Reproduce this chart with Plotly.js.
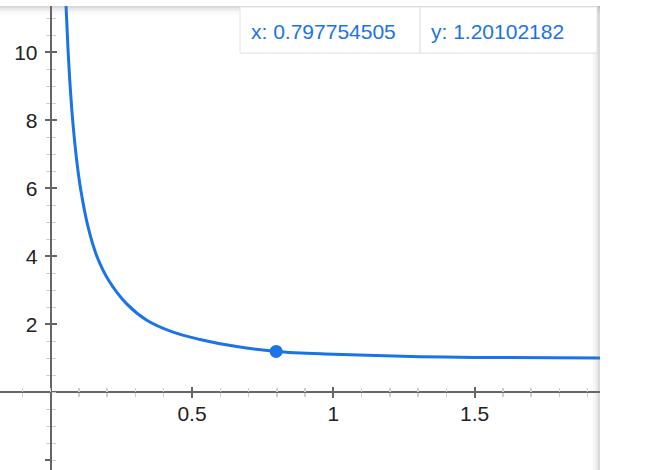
<!DOCTYPE html>
<html>
<head>
<meta charset="utf-8">
<script src="https://cdn.plot.ly/plotly-3.0.1.min.js"></script>
<style>html,body{margin:0;padding:0;background:#fff;}#chart{width:662px;height:470px;}</style>
</head>
<body>
<div id="chart"></div>
<script>
// Curve values
const curveX = [0.054, 0.062, 0.070, 0.080, 0.092, 0.106, 0.132, 0.163, 0.206, 0.269, 0.340, 0.433, 0.528, 0.658, 0.797754505, 1.0, 1.307, 1.5, 1.944];
const curveY = [11.41, 9.97, 8.86, 7.79, 6.82, 5.97, 4.87, 4.01, 3.28, 2.60, 2.12, 1.77, 1.555, 1.345, 1.20102182, 1.12, 1.047, 1.027, 1.009];
// Highlighted point
const pointX = [0.797754505];
const pointY = [1.20102182];
// Tick values / labels
const xTickVals = [0, 0.5, 1, 1.5];
const xTickText = ['', '0.5', '1', '1.5'];
const yTickVals = [-2, 0, 2, 4, 6, 8, 10];
const yTickText = ['', '', '2', '4', '6', '8', '10'];
const tooltipX = 'x: 0.797754505';
const tooltipY = 'y: 1.20102182';

const xRange = [-0.1794, 1.9437];
const yRange = [-2.285, 11.362];
const xPos = (0 - xRange[0]) / (xRange[1] - xRange[0]);
const yPos = (0 - yRange[0]) / (yRange[1] - yRange[0]);

const blue = '#1a73e8';
const tickFont = {family: 'Arial, "Liberation Sans", sans-serif', size: 21, color: '#222'};

const traces = [
  {x: curveX, y: curveY, type: 'scatter', mode: 'lines', line: {color: blue, width: 3, shape: 'spline', smoothing: 1}, hoverinfo: 'skip', showlegend: false},
  {x: pointX, y: pointY, type: 'scatter', mode: 'markers', marker: {color: blue, size: 13}, hoverinfo: 'skip', showlegend: false},
  {x: [], y: [], xaxis: 'x2', yaxis: 'y2', type: 'scatter', showlegend: false}
];

function axisBase(range, pos, vals, text, minorDt, side) {
  return {
    range: range, anchor: 'free', position: pos, showgrid: false, zeroline: false,
    tickmode: 'array', tickvals: vals, ticktext: text, tickfont: tickFont,
    ticks: side, ticklen: 5, tickwidth: 2, tickcolor: '#666',
    minor: {dtick: minorDt, tick0: 0, ticks: side, ticklen: 4, tickwidth: 1.5, tickcolor: '#cfcfcf', showgrid: false},
    fixedrange: true
  };
}

const xaxis = Object.assign(axisBase(xRange, yPos, xTickVals, xTickText, 0.1, 'outside'), {showline: true, linecolor: '#666', linewidth: 2, domain: [0, 1], ticklabelstandoff: -3});
const xaxis2 = Object.assign(axisBase(xRange, yPos, xTickVals, xTickText, 0.1, 'inside'), {overlaying: 'x', showline: false, showticklabels: false});
const yaxis = Object.assign(axisBase(yRange, xPos, yTickVals, yTickText, 0.5, 'outside'), {showline: true, linecolor: '#666', linewidth: 2, domain: [0, 1], ticklabelstandoff: 3});
const yaxis2 = Object.assign(axisBase(yRange, xPos, yTickVals, yTickText, 0.5, 'inside'), {overlaying: 'y', showline: false, showticklabels: false});

const W = 600, H = 464;
const px = v => v / W;
const py = v => 1 - (v - 6) / H;

const shapes = [];
// top shadow
[[6, 8, 0.28], [8, 10, 0.16], [10, 12, 0.09], [12, 15, 0.04]].forEach(s => {
  shapes.push({type: 'rect', xref: 'paper', yref: 'paper', x0: 0, x1: 1, y0: py(s[1]), y1: py(s[0]), fillcolor: 'rgba(120,120,120,' + s[2] + ')', line: {width: 0}, layer: 'above'});
});
// right shadow
[[598, 600, 0.28], [596, 598, 0.16], [593, 596, 0.07]].forEach(s => {
  shapes.push({type: 'rect', xref: 'paper', yref: 'paper', x0: px(s[0]), x1: px(s[1]), y0: 0, y1: 1, fillcolor: 'rgba(120,120,120,' + s[2] + ')', line: {width: 0}, layer: 'above'});
});
// tooltip box
shapes.push({type: 'rect', xref: 'paper', yref: 'paper', x0: px(241), x1: px(598), y0: py(54), y1: py(8), fillcolor: 'rgba(0,0,0,0.05)', line: {width: 0}, layer: 'above'});
shapes.push({type: 'rect', xref: 'paper', yref: 'paper', x0: px(240), x1: px(597), y0: py(53), y1: py(7), fillcolor: '#fff', line: {color: '#e4e4e4', width: 1}, layer: 'above'});
shapes.push({type: 'line', xref: 'paper', yref: 'paper', x0: px(420), x1: px(420), y0: py(53), y1: py(7), line: {color: '#e4e4e4', width: 1.5}, layer: 'above'});

const annFont = {family: 'Arial, "Liberation Sans", sans-serif', size: 21, color: blue};
const annotations = [
  {xref: 'paper', yref: 'paper', x: px(249), y: py(31), xanchor: 'left', yanchor: 'middle', text: tooltipX, showarrow: false, font: annFont},
  {xref: 'paper', yref: 'paper', x: px(429), y: py(31), xanchor: 'left', yanchor: 'middle', text: tooltipY, showarrow: false, font: annFont}
];

const layout = {
  width: 662, height: 470,
  margin: {l: 0, r: 62, t: 6, b: 0, pad: 0},
  paper_bgcolor: '#fff', plot_bgcolor: '#fff',
  xaxis: xaxis, xaxis2: xaxis2, yaxis: yaxis, yaxis2: yaxis2,
  shapes: shapes, annotations: annotations,
  showlegend: false, hovermode: false
};

Plotly.newPlot('chart', traces, layout, {displayModeBar: false, staticPlot: true});
</script>
</body>
</html>
